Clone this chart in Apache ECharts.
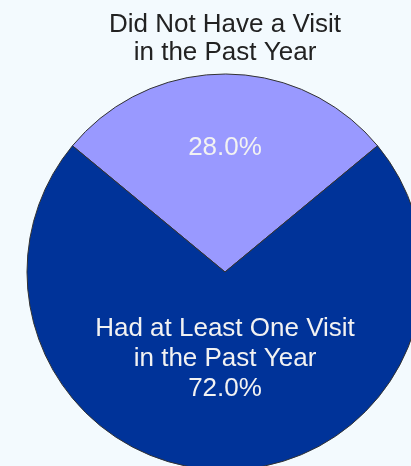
<!DOCTYPE html>
<html>
<head>
<meta charset="utf-8">
<script src="https://cdn.jsdelivr.net/npm/echarts@6/dist/echarts.min.js"></script>
<style>
html,body{margin:0;padding:0;background:#F3FAFE;}
#chart{width:411px;height:466px;}
</style>
</head>
<body>
<div id="chart"></div>
<script>
const categories = ['Did Not Have a Visit\nin the Past Year', 'Had at Least One Visit\nin the Past Year'];
const values = [28.0, 72.0];
const colors = ['#9999FF', '#003399'];

const chart = echarts.init(document.getElementById('chart'), null, {renderer: 'canvas'});
const font = '"Liberation Sans", Arial, sans-serif';

chart.setOption({
  backgroundColor: '#F3FAFE',
  animation: false,
  title: {
    text: categories[0],
    left: 225,
    top: 11,
    padding: 0,
    textAlign: 'center',
    textStyle: {
      fontFamily: font, fontSize: 26, fontWeight: 'normal',
      color: '#222222', lineHeight: 28, align: 'center'
    }
  },
  series: [{
    type: 'pie',
    center: [225, 272],
    radius: 198,
    startAngle: 140.4,
    clockwise: true,
    silent: true,
    itemStyle: {borderColor: '#333333', borderWidth: 1},
    label: {
      show: true,
      position: 'inside',
      fontFamily: font,
      fontSize: 26,
      color: '#F2F2F2',
      lineHeight: 30,
      align: 'center'
    },
    labelLine: {show: false},
    labelLayout: function (p) {
      return p.dataIndex === 0 ? {dy: -22} : {dy: -15};
    },
    data: [
      {
        name: categories[0], value: values[0],
        itemStyle: {color: colors[0]},
        label: {formatter: function (p) { return p.value.toFixed(1) + '%'; }}
      },
      {
        name: categories[1], value: values[1],
        itemStyle: {color: colors[1]},
        label: {formatter: function (p) { return p.name + '\n' + p.value.toFixed(1) + '%'; }}
      }
    ]
  }]
});
</script>
</body>
</html>
